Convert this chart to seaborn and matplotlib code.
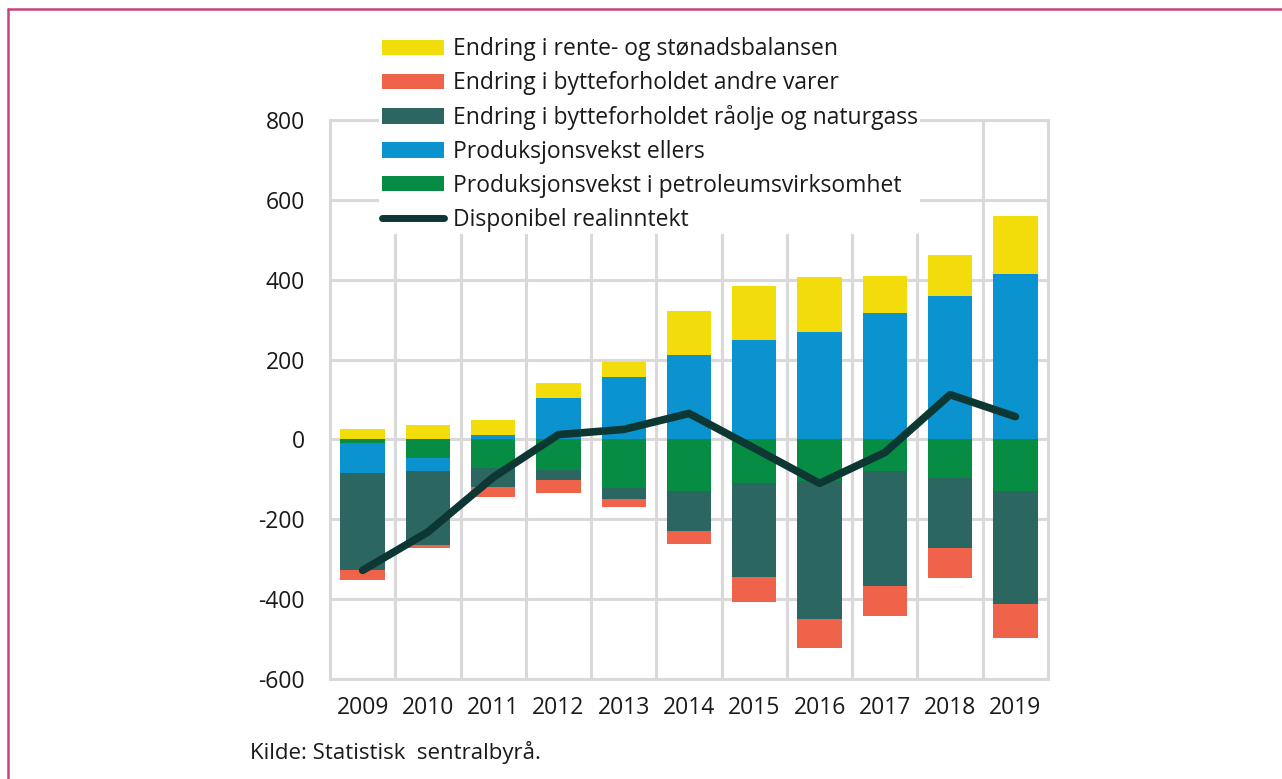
import matplotlib

matplotlib.use("Agg")
import matplotlib.pyplot as plt
import numpy as np
import pandas as pd
import seaborn as sns
from matplotlib.lines import Line2D
from matplotlib.patches import Patch

years = ["2009", "2010", "2011", "2012", "2013", "2014", "2015", "2016", "2017", "2018", "2019"]

# Components (bn NOK)
rente = [25, 37, 36, 37, 37, 110, 134, 139, 91, 104, 146]
andre_varer = [-25, -8, -25, -31, -20, -32, -63, -73, -75, -74, -85]
raolje = [-243, -186, -48, -25, -29, -101, -235, -345, -290, -176, -285]
prod_ellers = [-75, -32, 12, 103, 157, 212, 249, 268, 317, 358, 414]
prod_petro = [-10, -47, -72, -77, -121, -128, -109, -104, -78, -96, -128]
realinntekt = [-328, -232, -95, 12, 25, 65, -22, -110, -33, 112, 57]

series_names = [
    "Produksjonsvekst i petroleumsvirksomhet",
    "Produksjonsvekst ellers",
    "Endring i bytteforholdet råolje og naturgass",
    "Endring i bytteforholdet andre varer",
    "Endring i rente- og stønadsbalansen",
]
series_values = [prod_petro, prod_ellers, raolje, andre_varer, rente]
colors = ["#078c44", "#0a93cf", "#2b6661", "#f0634b", "#f2dc0c"]
line_color = "#0c3733"
grid_color = "#d9d9d9"

FONT = ["Open Sans", "DejaVu Sans"]

sns.set_theme(style="white")
plt.rcParams["font.family"] = FONT
plt.rcParams["axes.unicode_minus"] = False

fig = plt.figure(figsize=(12.82, 7.79), dpi=100)
ax = fig.add_axes([0.2574, 0.1284, 0.8175 - 0.2574, 0.846 - 0.1284])

# diverging stacks: cumulative positive and negative sums, draw outermost first
vals = np.array(series_values, dtype=float)
pos_cum = np.cumsum(np.clip(vals, 0, None), axis=0)
neg_cum = np.cumsum(np.clip(vals, None, 0), axis=0)
for i in reversed(range(len(series_names))):
    for cum in (pos_cum, neg_cum):
        df = pd.DataFrame({"year": years, "value": cum[i]})
        sns.barplot(data=df, x="year", y="value", order=years, color=colors[i],
                    width=0.68, saturation=1, linewidth=0, edgecolor="none",
                    ax=ax, zorder=2)

sns.lineplot(x=np.arange(len(years)), y=realinntekt, color=line_color,
             linewidth=5.5, ax=ax, zorder=3, solid_capstyle="round")

ax.set_xlim(-0.5, len(years) - 0.5)
ax.set_ylim(-600, 800)
ax.set_yticks(np.arange(-600, 801, 200))
ax.set_xticks(np.arange(-0.5, len(years)), minor=True)
ax.grid(axis="y", color=grid_color, linewidth=2.2, zorder=0)
ax.grid(axis="x", which="minor", color=grid_color, linewidth=2.2, zorder=0)
ax.grid(axis="x", which="major", visible=False)
ax.set_axisbelow(True)
for s in ax.spines.values():
    s.set_visible(True)
    s.set_color(grid_color)
    s.set_linewidth(2.2)
ax.set_xlabel("")
ax.set_ylabel("")
ax.tick_params(axis="both", which="both", length=0, labelsize=16.5, colors="#1a1a1a")
ax.tick_params(axis="y", pad=18)
ax.tick_params(axis="x", pad=12)

handles = [Patch(facecolor=colors[i], edgecolor="none") for i in reversed(range(len(series_names)))]
labels = list(reversed(series_names))
handles.append(Line2D([0], [0], color=line_color, linewidth=5, solid_capstyle="round"))
labels.append("Disponibel realinntekt")
leg = fig.legend(handles, labels, loc="upper left", bbox_to_anchor=(0.296, 0.955),
                 frameon=True, facecolor="white", edgecolor="none", framealpha=1,
                 fontsize=16.5, handlelength=2.7, handleheight=0.65, handletextpad=0.4,
                 labelspacing=0.43, borderpad=0.1, borderaxespad=0)
for t in leg.get_texts():
    t.set_color("#1a1a1a")

fig.text(250 / 1282, 1 - 752 / 779, "Kilde: Statistisk  sentralbyrå.", fontsize=16,
         va="center", ha="left", color="#1a1a1a")

# pink frame (top and left edges visible)
pink = "#c8437c"
fig.add_artist(Line2D([8 / 1282, 8 / 1282], [0, 1 - 9 / 779], transform=fig.transFigure,
                      color=pink, linewidth=1.8))
fig.add_artist(Line2D([8 / 1282, 1.0], [1 - 9 / 779, 1 - 9 / 779], transform=fig.transFigure,
                      color=pink, linewidth=1.8))

fig.savefig("out.png", dpi=100)
